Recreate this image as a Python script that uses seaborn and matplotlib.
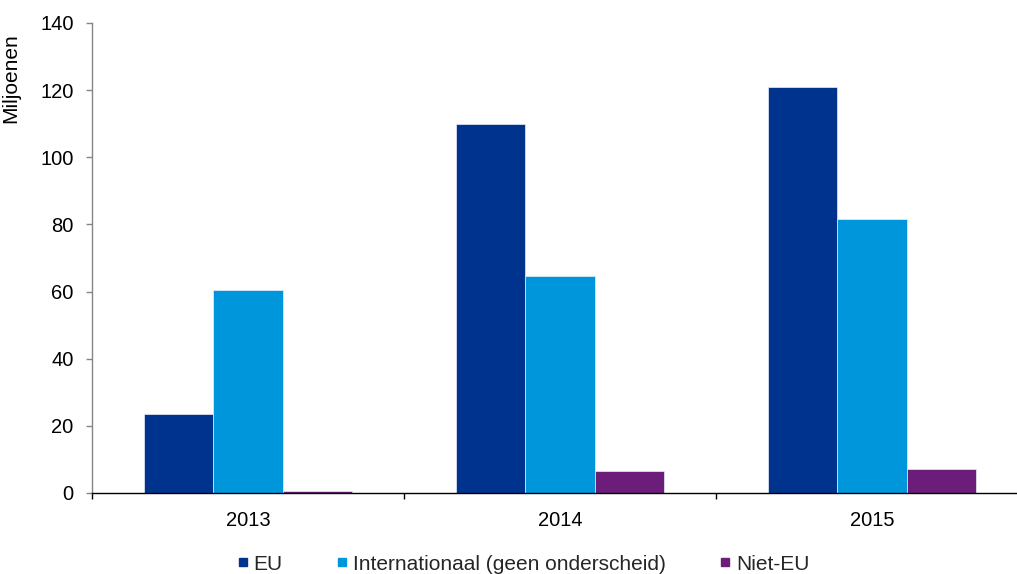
import matplotlib
matplotlib.use("Agg")
import matplotlib.pyplot as plt
from matplotlib.lines import Line2D
import seaborn as sns
import pandas as pd

# Data (millions)
years = ["2013", "2014", "2015"]
series = ["EU", "Internationaal (geen onderscheid)", "Niet-EU"]
eu = [23.4, 110.0, 120.8]
internationaal = [60.5, 64.6, 81.6]
niet_eu = [0.5, 6.5, 7.1]
colors = ["#00338D", "#0096DB", "#6C1D7A"]

rows = []
for name, vals in zip(series, [eu, internationaal, niet_eu]):
    for y, v in zip(years, vals):
        rows.append({"Jaar": y, "Reeks": name, "Waarde": v})
df = pd.DataFrame(rows)

sns.set_theme(style="white")
plt.rcParams["font.family"] = ["Liberation Sans", "DejaVu Sans"]

fig = plt.figure(figsize=(10.17, 5.74), dpi=100)
ax = fig.add_axes([92 / 1017, 81 / 574, 936 / 1017, 470 / 574])

sns.barplot(data=df, x="Jaar", y="Waarde", hue="Reeks", hue_order=series,
            palette=colors, width=0.665, edgecolor="#e8eef7", linewidth=0.5,
            saturation=1, legend=False, ax=ax)

ax.set_xlim(-0.5, 2.5)
ax.set_ylim(0, 140)
ax.set_yticks(range(0, 141, 20))
ax.set_xlabel("")
ax.set_ylabel("Miljoenen", fontsize=15, color="black")
ax.yaxis.set_label_coords(-0.077, 0.882)

for s in ["top", "right"]:
    ax.spines[s].set_visible(False)
ax.spines["left"].set_color("#868686")
ax.spines["left"].set_linewidth(1.0)
ax.spines["bottom"].set_color("black")
ax.spines["bottom"].set_linewidth(1.0)

ax.tick_params(axis="y", which="major", direction="out", length=4.3, width=1,
               color="#868686", labelsize=14.5, labelcolor="black", pad=9, left=True)
ax.tick_params(axis="x", which="major", length=0, labelsize=14.5,
               labelcolor="black", pad=13)
ax.set_xticks([-0.5, 0.5, 1.5, 2.5], minor=True)
ax.tick_params(axis="x", which="minor", direction="out", length=4, width=1,
               color="black", bottom=True)

handles = [Line2D([0], [0], marker="s", linestyle="none", markersize=5.5,
                  markerfacecolor=c, markeredgecolor=c) for c in colors]
fig.legend(handles, series, loc="center", bbox_to_anchor=(523 / 1017, 1 - 564 / 574),
           ncol=3, frameon=False, fontsize=15, handlelength=0.6,
           handletextpad=0.22, columnspacing=2.55)

fig.savefig("out.png", dpi=100)
